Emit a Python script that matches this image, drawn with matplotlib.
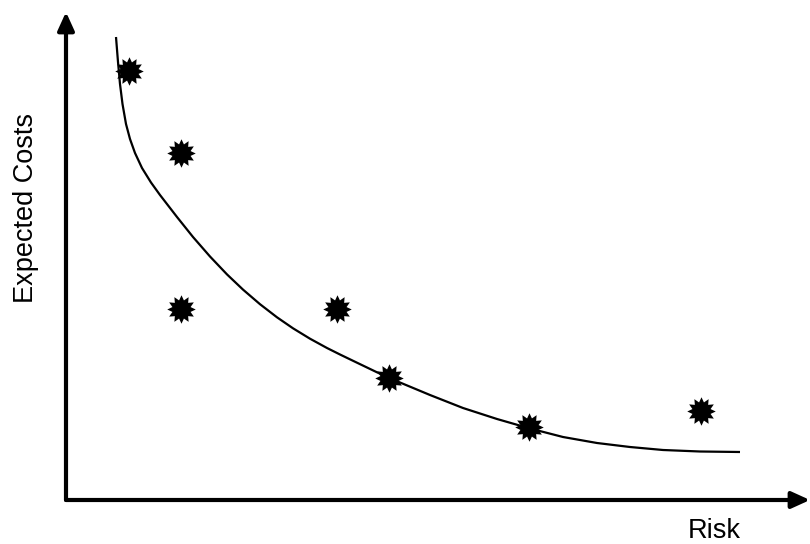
import matplotlib.pyplot as plt
from matplotlib.path import Path

plt.rcParams['font.family'] = ['Liberation Sans', 'DejaVu Sans']

# observed alternatives (risk, expected costs), arbitrary units
risk = [63, 115, 115, 271, 323, 463, 635]
cost = [429, 347, 191, 191, 122, 73, 89]

# efficient frontier curve
curveRisk = [50, 52, 54, 56.5, 60, 64, 69, 76, 85, 94, 111, 127, 144, 161, 177, 194,
             211, 227, 244, 261, 274, 291, 311, 323, 334, 364, 397, 431, 464, 497,
             531, 564, 597, 634, 674]
curveCost = [463, 438, 416, 396, 376, 361, 347, 332, 317.5, 305, 283, 263, 243.5, 225.6,
             210.4, 195.8, 182.7, 171.7, 161.3, 152, 145.5, 137.3, 127.7, 122.2, 117.5,
             105, 92, 81, 71.5, 63, 57, 53, 50, 48.5, 48]

W, H = 810, 544
fig = plt.figure(figsize=(W / 100, H / 100), dpi=100)
ax = fig.add_axes([66 / W, 44 / H, (W - 66) / W, (500 - 12) / H])
ax.set_xlim(0, 744)
ax.set_ylim(0, 488)
ax.axis("off")

ax.plot(curveRisk, curveCost, color="black", linewidth=1.6,
        solid_capstyle="butt", solid_joinstyle="round")

burst = Path.unit_regular_star(12, 0.66)
ax.plot(risk, cost, linestyle="none", marker=burst, markersize=20.5,
        color="black", markeredgewidth=0)

arrow = dict(arrowstyle="-|>,head_length=1.1,head_width=0.5", color="black",
             linewidth=3, shrinkA=0, shrinkB=0)
ax.annotate("", xy=(0, 1), xytext=(0, 0), xycoords="axes fraction",
            arrowprops=arrow, annotation_clip=False)
ax.annotate("", xy=(1, 0), xytext=(0, 0), xycoords="axes fraction",
            arrowprops=arrow, annotation_clip=False)

fig.text(26 / W, 1 - 208 / H, "Expected Costs", rotation=90, fontsize=19.5,
         ha="center", va="center")
fig.text(714 / W, 1 - 531 / H, "Risk", fontsize=19.5, ha="center", va="center")

fig.savefig("out.png", dpi=100)
